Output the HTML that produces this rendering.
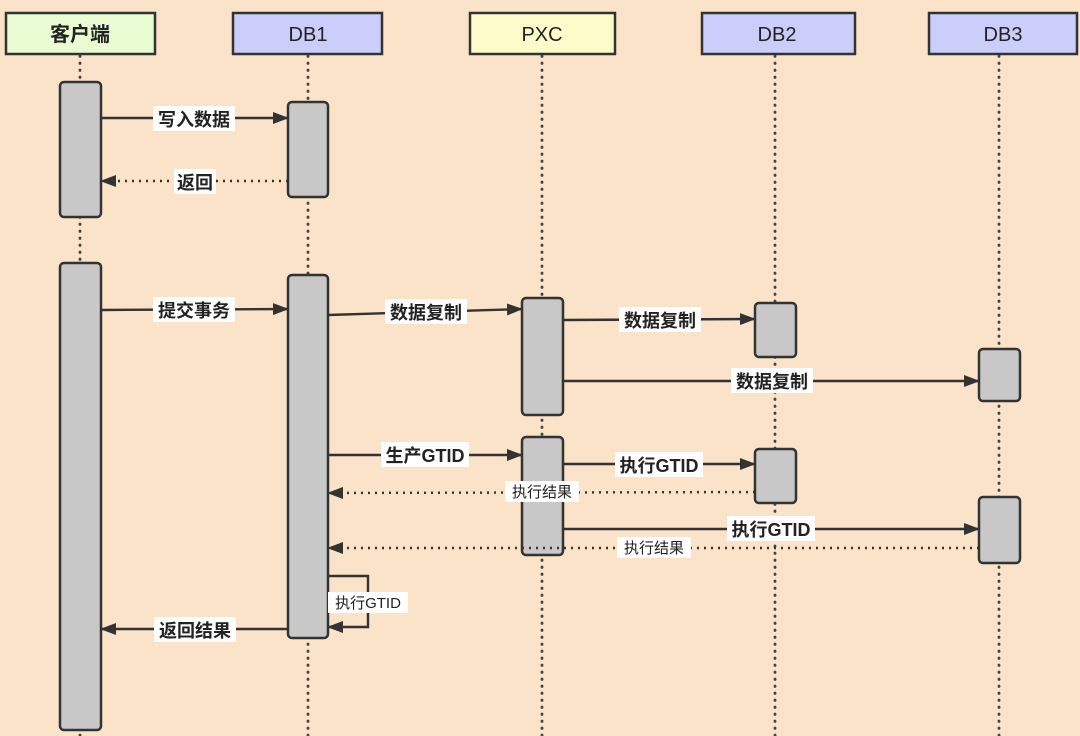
<!DOCTYPE html>
<html><head><meta charset="utf-8"><style>
html,body{margin:0;padding:0;background:#fae3c8;}
svg{display:block}
text{font-family:"Liberation Sans","Noto Sans CJK SC",sans-serif;fill:#222;}
</style></head><body>
<svg width="1080" height="736" viewBox="0 0 1080 736" xmlns="http://www.w3.org/2000/svg">
<defs>
<marker id="a" markerWidth="16" markerHeight="12" refX="15" refY="6" orient="auto" markerUnits="userSpaceOnUse">
<path d="M0,0 L16,6 L0,12 Z" fill="#333"/></marker>
</defs>
<rect width="1080" height="736" fill="#fae3c8"/>
<g stroke="#444" stroke-width="2.8" stroke-dasharray="0.5,6.5" stroke-linecap="round">
<line x1="80" y1="56" x2="80" y2="736"/>
<line x1="308" y1="56" x2="308" y2="736"/>
<line x1="542" y1="56" x2="542" y2="736"/>
<line x1="775" y1="56" x2="775" y2="736"/>
<line x1="999" y1="56" x2="999" y2="736"/>
</g>
<g stroke="#333" stroke-width="2.5">
<rect x="6" y="13" width="149" height="41" fill="#e9fcd2"/>
<rect x="233" y="13" width="149" height="41" fill="#cbcdfb"/>
<rect x="470" y="13" width="145" height="41" fill="#fcfcca"/>
<rect x="702" y="13" width="153" height="41" fill="#cbcdfb"/>
<rect x="929" y="13" width="148" height="41" fill="#cbcdfb"/>
</g>
<g font-size="20" text-anchor="middle">
<text x="80" y="41" font-weight="bold">客户端</text>
<text x="308" y="41">DB1</text>
<text x="542" y="41">PXC</text>
<text x="777" y="41">DB2</text>
<text x="1003" y="41">DB3</text>
</g>
<g stroke="#333" stroke-width="2.5" fill="#c8c8c8">
<rect x="60" y="82" width="41" height="135" rx="4"/>
<rect x="60" y="263" width="41" height="467" rx="4"/>
<rect x="288" y="102" width="40" height="95" rx="4"/>
<rect x="288" y="275" width="40" height="363" rx="4"/>
<rect x="522" y="298" width="41" height="117" rx="4"/>
<rect x="522" y="437" width="41" height="118" rx="4"/>
<rect x="755" y="303" width="41" height="54" rx="4"/>
<rect x="755" y="449" width="41" height="54" rx="4"/>
<rect x="979" y="349" width="41" height="52" rx="4"/>
<rect x="979" y="497" width="41" height="66" rx="4"/>
</g>
<g stroke="#333" stroke-width="2.4" fill="none" marker-end="url(#a)">
<line x1="101" y1="118" x2="288" y2="118"/>
<line x1="288" y1="181" x2="101" y2="181" stroke-dasharray="2,5"/>
<line x1="101" y1="310" x2="288" y2="309"/>
<line x1="328" y1="315" x2="522" y2="309"/>
<line x1="563" y1="320" x2="755" y2="319"/>
<line x1="563" y1="381" x2="979" y2="381"/>
<line x1="328" y1="455" x2="522" y2="455"/>
<line x1="563" y1="464" x2="755" y2="464"/>
<line x1="755" y1="492" x2="328" y2="493" stroke-dasharray="2,5"/>
<line x1="563" y1="529" x2="979" y2="529"/>
<line x1="979" y1="548" x2="328" y2="548" stroke-dasharray="2,5"/>
<polyline points="328,576 368,576 368,627 328,627"/>
<line x1="288" y1="629" x2="101" y2="629"/>
</g>
<g font-size="18" font-weight="bold" text-anchor="middle">
<rect x="153" y="106" width="82" height="25" fill="#fff"/><text x="194" y="126">写入数据</text>
<rect x="174" y="169" width="42" height="25" fill="#fff"/><text x="195" y="189">返回</text>
<rect x="153" y="297" width="82" height="25" fill="#fff"/><text x="194" y="317">提交事务</text>
<rect x="385" y="299" width="82" height="25" fill="#fff"/><text x="426" y="319">数据复制</text>
<rect x="619" y="307" width="82" height="25" fill="#fff"/><text x="660" y="327">数据复制</text>
<rect x="731" y="368" width="82" height="25" fill="#fff"/><text x="772" y="388">数据复制</text>
<rect x="381" y="442" width="88" height="25" fill="#fff"/><text x="425" y="462">生产GTID</text>
<rect x="615" y="452" width="88" height="25" fill="#fff"/><text x="659" y="472">执行GTID</text>
<rect x="727" y="516" width="88" height="25" fill="#fff"/><text x="771" y="536">执行GTID</text>
<rect x="154" y="617" width="82" height="25" fill="#fff"/><text x="195" y="637">返回结果</text>
</g>
<g font-size="15" text-anchor="middle">
<rect x="505" y="481" width="74" height="21" fill="#fff"/><text x="542" y="497">执行结果</text>
<rect x="617" y="537" width="74" height="21" fill="#fff"/><text x="654" y="553">执行结果</text>
<rect x="328" y="592" width="80" height="21" fill="#fff"/><text x="368" y="608">执行GTID</text>
</g>
</svg>
</body></html>
